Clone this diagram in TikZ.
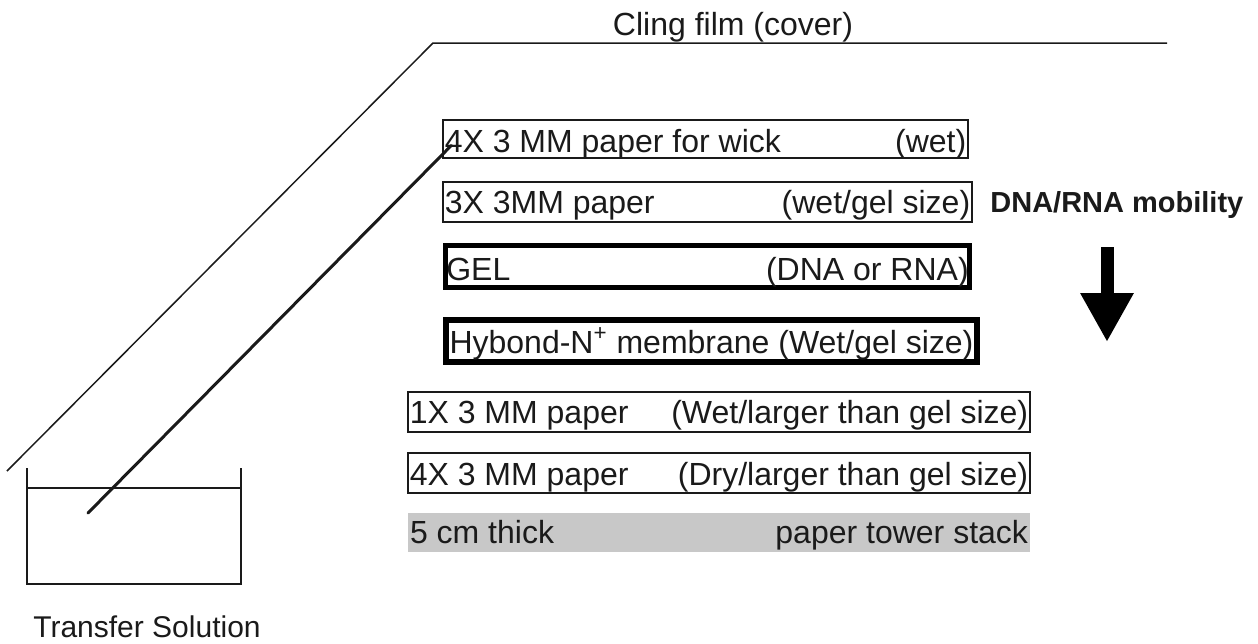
\documentclass[tikz,border=0pt]{standalone}
\usepackage{fontspec}
\setmainfont{Liberation Sans}
\usetikzlibrary{arrows.meta, fit, calc}
\definecolor{inkblack}{HTML}{1A1A1A}
\definecolor{towergray}{HTML}{C8C8C8}

\begin{document}
\begin{tikzpicture}[
    x=0.5pt, y=-0.5pt,
    sheet/.style={
        rectangle,
        draw=inkblack,
        line width=.6pt,
        inner sep=0pt
    },
    thicksheet/.style={
        rectangle,
        draw=black,
        line width=2.6pt,
        inner sep=0pt
    },
    stack/.style={
        rectangle,
        fill=towergray,
        inner sep=0pt
    },
    lbl/.style={
        inner sep=0pt,
        text=inkblack,
        font=\fontsize{16}{19}\selectfont
    },
    leftlbl/.style={lbl, anchor=base west},
    rightlbl/.style={lbl, anchor=base east},
    film/.style={
        line width=.75pt,
        draw=inkblack
    },
    wickline/.style={
        line width=1.5pt,
        line cap=round,
        draw=inkblack
    },
    mobarrow/.style={
        -{Triangle[width=25pt, length=24.5pt]},
        line width=6.5pt,
        draw=black
    }
]

\useasboundingbox (0,0) rectangle (1258,643);

% ------------------------------------------------
% Cling film cover
% ------------------------------------------------
\coordinate (filmfoot) at (7,471);
\coordinate (filmcorner) at (433,43);
\coordinate (filmend) at (1167,43);
\draw[film] (filmfoot) -- (filmcorner) -- (filmend);
\node[lbl, anchor=base] (clingtxt) at (733,35) {Cling film (cover)};

% ------------------------------------------------
% Blotting stack
% ------------------------------------------------
\node[sheet, fit={(443,120) (968,158)}] (wick) {};
\node[sheet, fit={(443,182) (972,222)}] (gelsize) {};
\node[thicksheet, fit={(445.5,245.5) (969.5,287.5)}] (gel) {};
\node[thicksheet, line width=3pt, fit={(446,320) (977,362)}] (membrane) {};
\node[sheet, fit={(408,392) (1030,432)}] (wetpaper) {};
\node[sheet, fit={(408,453) (1030,493)}] (drypaper) {};
\node[stack, fit={(408,513) (1030,552)}] (tower) {};

\node[leftlbl]  (wickL) at ($(wick.south west)+(2,-6)$) {4X 3 MM paper for wick};
\node[rightlbl] (wickR) at ($(wick.south east)+(-2,-6)$) {(wet)};

\node[leftlbl]  (gelsizeL) at ($(gelsize.south west)+(2,-9)$) {3X 3MM paper};
\node[rightlbl] (gelsizeR) at ($(gelsize.south east)+(-2,-9)$) {(wet/gel size)};

\node[leftlbl]  (gelL) at ($(gel.south west)+(3,-9.5)$) {GEL};
\node[rightlbl] (gelR) at ($(gel.south east)+(-3,-9.5)$) {(DNA or RNA)};

\node[lbl, anchor=base] (membraneT) at ($(membrane.south)+(0,-12)$) {Hybond-N\textsuperscript{+} membrane (Wet/gel size)};

\node[leftlbl]  (wetpaperL) at ($(wetpaper.south west)+(2,-9)$) {1X 3 MM paper};
\node[rightlbl] (wetpaperR) at ($(wetpaper.south east)+(-2,-9)$) {(Wet/larger than gel size)};

\node[leftlbl]  (drypaperL) at ($(drypaper.south west)+(2,-8)$) {4X 3 MM paper};
\node[rightlbl] (drypaperR) at ($(drypaper.south east)+(-2,-8)$) {(Dry/larger than gel size)};

\node[leftlbl]  (towerL) at ($(tower.south west)+(2,-9)$) {5 cm thick};
\node[rightlbl] (towerR) at ($(tower.south east)+(-2,-9)$) {paper tower stack};

% ------------------------------------------------
% Mobility direction
% ------------------------------------------------
\node[lbl, font=\fontsize{14.5}{17}\selectfont\bfseries, anchor=base west] (mobility) at (990,212) {DNA/RNA mobility};
\coordinate (mobtop) at (1107,247);
\coordinate (mobtip) at (1107,342);
\draw[mobarrow] (mobtop) -- (mobtip);

% ------------------------------------------------
% Reservoir and wick
% ------------------------------------------------
\coordinate (trayTL) at (27,468);
\coordinate (trayBL) at (27,584);
\coordinate (trayBR) at (241,584);
\coordinate (trayTR) at (241,468);
\draw[film] (trayTL) -- (trayBL) -- (trayBR) -- (trayTR);
\draw[film] (27,488) -- (241,488);
\node[lbl, font=\fontsize{15}{18}\selectfont, anchor=base] (transfer) at (147,637) {Transfer Solution};

\coordinate (wickfoot) at (88,513);
\coordinate (wicktop) at ($(wick.north west)+(9,26)$);
\draw[wickline] (wickfoot) -- (wicktop);

\end{tikzpicture}
\end{document}
